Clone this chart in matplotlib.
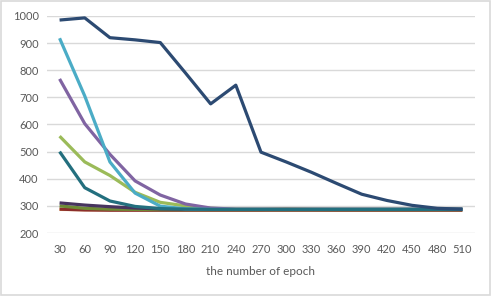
import matplotlib
matplotlib.use("Agg")
import matplotlib.pyplot as plt
from matplotlib.patches import Rectangle

epochs = [30, 60, 90, 120, 150, 180, 210, 240, 270, 300, 330, 360, 390, 420, 450, 480, 510]

s_red = [288, 285, 284, 284, 284, 284, 284, 284, 284, 284, 284, 284, 284, 284, 284, 284, 284]
s_orange = [287, 286, 286, 286, 286, 286, 286, 286, 286, 289, 287, 286, 286, 286, 286, 286, 286]
s_olive = [300, 291, 288, 287, 286, 286, 286, 286, 286, 286, 286, 286, 286, 286, 286, 286, 286]
s_dpurple = [311, 303, 297, 292, 289, 288, 287, 287, 287, 287, 287, 287, 287, 287, 287, 287, 287]
s_teal = [500, 367, 318, 298, 290, 288, 287, 287, 287, 287, 287, 287, 287, 287, 287, 287, 287]
s_green = [557, 462, 412, 350, 313, 300, 291, 288, 288, 288, 288, 288, 288, 288, 288, 288, 288]
s_purple = [768, 603, 490, 392, 340, 307, 292, 288, 288, 288, 288, 288, 288, 288, 288, 288, 288]
s_cyan = [918, 705, 462, 347, 299, 289, 287, 287, 287, 287, 287, 287, 287, 287, 287, 287, 287]
s_navy = [985, 993, 920, 912, 902, 790, 676, 745, 498, 462, 424, 383, 343, 320, 302, 291, 288]

series = [
    (s_orange, "#E9A04A"),
    (s_red, "#8B2E2C"),
    (s_olive, "#6E8B35"),
    (s_dpurple, "#47345E"),
    (s_green, "#9BBB59"),
    (s_purple, "#8064A2"),
    (s_cyan, "#4BACC6"),
    (s_teal, "#236F7E"),
    (s_navy, "#2C4A72"),
]

yticks = [200, 300, 400, 500, 600, 700, 800, 900, 1000]

fig = plt.figure(figsize=(4.91, 2.96), dpi=100)
fig.patches.append(Rectangle((0.002, 0.003), 0.995, 0.993, transform=fig.transFigure,
                             fill=False, edgecolor="#D9D9D9", linewidth=1.2))
ax = fig.add_axes([0.0957, 0.2128, 0.8717, 0.7332])
x = list(range(len(epochs)))
for vals, c in series:
    ax.plot(x, vals, color=c, linewidth=2.3, solid_capstyle="butt", solid_joinstyle="round")

ax.set_xlim(-0.5, len(epochs) - 0.5)
ax.set_ylim(200, 1000)
ax.set_yticks(yticks)
ax.set_yticklabels([str(v) for v in yticks])
ax.set_xticks(x)
ax.set_xticklabels([str(e) for e in epochs])
ax.yaxis.grid(True, color="#D9D9D9", linewidth=1)
ax.set_axisbelow(True)
for sp in ax.spines.values():
    sp.set_visible(False)
ax.tick_params(axis="both", length=0, labelsize=8, colors="#595959", pad=8)
ax.tick_params(axis="y", pad=6)
ax.set_xlabel("the number of epoch", fontsize=8.5, color="#595959", labelpad=8)
for t in ax.get_xticklabels() + ax.get_yticklabels():
    t.set_family("Lato")
ax.xaxis.label.set_family("Lato")

fig.savefig("out.png", dpi=100)
